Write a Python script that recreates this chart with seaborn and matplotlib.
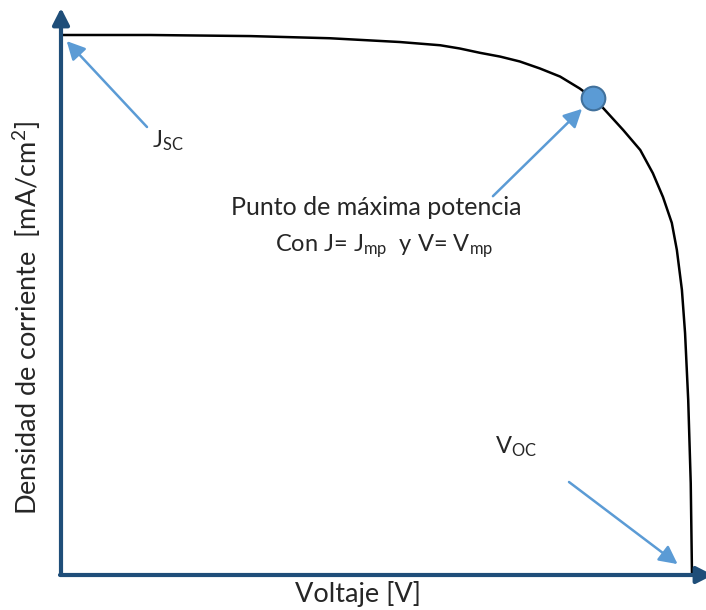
import matplotlib
matplotlib.use("Agg")
import matplotlib.pyplot as plt
import seaborn as sns
import pandas as pd

# Normalised J-V characteristic of a solar cell (V / Voc, J / Jsc)
voltage = [0.000, 0.141, 0.300, 0.426, 0.537, 0.601, 0.632, 0.664, 0.696,
           0.727, 0.759, 0.791, 0.822, 0.843, 0.859, 0.891, 0.918, 0.938,
           0.954, 0.968, 0.976, 0.984, 0.989, 0.994, 0.998, 1.000]
current_density = [1.000, 1.000, 0.998, 0.994, 0.987, 0.981, 0.975, 0.967, 0.960,
                   0.951, 0.938, 0.923, 0.901, 0.883, 0.865, 0.824, 0.787, 0.744,
                   0.700, 0.652, 0.602, 0.528, 0.448, 0.324, 0.170, 0.000]

# Characteristic points
v_mp, j_mp = [0.843], [0.883]
v_oc, j_sc = 1.0, 1.0

AXIS_BLUE = "#1F4E79"
ARROW_BLUE = "#5B9BD5"
POINT_EDGE = "#41719C"

sns.set_style("white")
plt.rcParams["font.family"] = ["Lato", "DejaVu Sans"]
plt.rcParams["mathtext.default"] = "regular"

W, H = 706, 610
fig = plt.figure(figsize=(W / 100, H / 100), dpi=100)
ax = fig.add_axes([0, 0, 1, 1])

# pixel layout of the plotting frame
x0, y0 = 61, 575          # origin in pixels
sx, sy = 631, 540         # pixels per unit of V/Voc and J/Jsc
ax.set_xlim(-x0 / sx, (W - x0) / sx)
ax.set_ylim(-(H - y0) / sy, y0 / sy)
ax.set_axis_off()

df = pd.DataFrame({"V": voltage, "J": current_density})
sns.lineplot(data=df, x="V", y="J", sort=False, color="black", lw=1.8,
             ax=ax, legend=False, solid_joinstyle="round",
             solid_capstyle="round")

mp = pd.DataFrame({"V": v_mp, "J": j_mp})
sns.scatterplot(data=mp, x="V", y="J", s=290, color=ARROW_BLUE,
                edgecolor=POINT_EDGE, linewidth=1.5, ax=ax, zorder=5,
                legend=False)

# Axis arrows
axis_style = dict(arrowstyle="-|>,head_length=0.55,head_width=0.28",
                  mutation_scale=18, lw=3, color=AXIS_BLUE,
                  shrinkA=0, shrinkB=0)
ax.annotate("", xy=(0, (y0 - 8) / sy), xytext=(0, 0),
            arrowprops=axis_style, annotation_clip=False)
ax.annotate("", xy=((713 - x0) / sx, 0), xytext=(-1 / sx, 0),
            arrowprops=axis_style, annotation_clip=False)

# Pointer arrows
ptr_style = dict(arrowstyle="-|>,head_length=0.55,head_width=0.28",
                 mutation_scale=20, lw=1.8, color=ARROW_BLUE, shrinkA=0)
ax.annotate("", xy=(0, j_sc), xytext=(86, -92), textcoords="offset pixels",
            arrowprops={**ptr_style, "shrinkB": 6}, annotation_clip=False)
ax.annotate("", xy=(v_mp[0], j_mp[0]), xytext=(-100, -98),
            textcoords="offset pixels",
            arrowprops={**ptr_style, "shrinkB": 11}, annotation_clip=False)
ax.annotate("", xy=(v_oc, 0), xytext=(-123, 93), textcoords="offset pixels",
            arrowprops={**ptr_style, "shrinkB": 13}, annotation_clip=False)


def fpos(px, py):
    return px / W, 1 - py / H


fig.text(*fpos(152, 147), r"J$_{SC}$", fontsize=17, va="baseline", ha="left")
fig.text(*fpos(495, 453), r"V$_{OC}$", fontsize=17, va="baseline", ha="left")
fig.text(*fpos(376, 215), "Punto de máxima potencia", fontsize=18,
         va="baseline", ha="center")
fig.text(*fpos(384, 251), r"Con J= J$_{mp}$  y V= V$_{mp}$", fontsize=17,
         va="baseline", ha="center")
fig.text(*fpos(358, 602), "Voltaje [V]", fontsize=19.5, va="baseline",
         ha="center")
fig.text(*fpos(27, 318), "Densidad de corriente  [mA/cm$^{2}$]", fontsize=19.5,
         va="center", ha="center", rotation=90)

fig.savefig("out.png", dpi=100)
